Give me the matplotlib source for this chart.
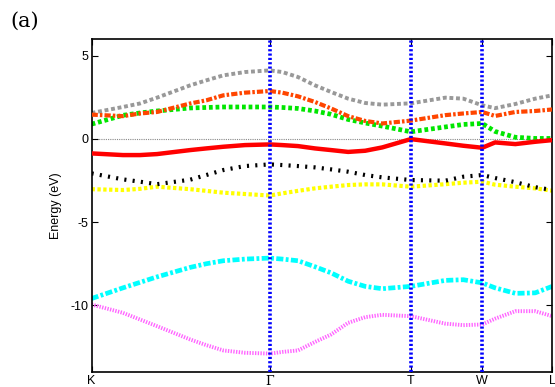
import numpy as np
import matplotlib
matplotlib.use("Agg")
import matplotlib.pyplot as plt

plt.rcParams["axes.unicode_minus"] = False
plt.rcParams["font.family"] = ["Liberation Sans", "DejaVu Sans"]

# high-symmetry points along the path (fraction of total path length)
sym_labels = ["K", "\u0393", "T", "W", "L"]
sym_pos = [0.0, 0.387, 0.693, 0.848, 1.0]

# k sample points
k = [0.0, 0.068, 0.105, 0.142, 0.214, 0.249, 0.286, 0.333, 0.387, 0.414, 0.448,
     0.485, 0.520, 0.557, 0.594, 0.631, 0.693, 0.768, 0.807, 0.848, 0.876,
     0.920, 0.963, 1.0]

# band energies (eV) read at the k points
band_gray    = [1.56, 1.92, 2.13, 2.48, 3.22, 3.52, 3.82, 4.02, 4.12, 4.02, 3.72,
                3.22, 2.82, 2.42, 2.16, 2.06, 2.14, 2.48, 2.42, 2.02, 1.85,
                2.10, 2.42, 2.62]
band_orange  = [1.46, 1.37, 1.53, 1.62, 2.13, 2.32, 2.62, 2.78, 2.88, 2.78, 2.56,
                2.22, 1.83, 1.37, 1.08, 0.93, 1.10, 1.43, 1.53, 1.62, 1.38,
                1.62, 1.68, 1.77]
band_green   = [0.89, 1.42, 1.56, 1.68, 1.86, 1.89, 1.92, 1.92, 1.92, 1.89, 1.83,
                1.68, 1.48, 1.17, 0.96, 0.77, 0.43, 0.72, 0.87, 0.93, 0.45,
                0.10, 0.03, 0.03]
band_red     = [-0.87, -0.97, -0.97, -0.91, -0.67, -0.57, -0.47, -0.37, -0.33, -0.37, -0.43,
                -0.57, -0.67, -0.78, -0.71, -0.51, -0.01, -0.27, -0.41, -0.53, -0.21,
                -0.31, -0.17, -0.07]
band_black   = [-2.07, -2.43, -2.57, -2.72, -2.45, -2.17, -1.87, -1.63, -1.53, -1.57, -1.63,
                -1.71, -1.83, -1.97, -2.17, -2.31, -2.47, -2.51, -2.27, -2.17, -2.35,
                -2.60, -2.90, -3.07]
band_yellow  = [-3.02, -3.07, -3.00, -2.87, -3.02, -3.12, -3.23, -3.31, -3.40, -3.27, -3.12,
                -2.97, -2.87, -2.77, -2.73, -2.73, -2.87, -2.72, -2.63, -2.57, -2.75,
                -2.87, -2.97, -3.11]
band_cyan    = [-9.59, -8.95, -8.62, -8.29, -7.72, -7.50, -7.32, -7.22, -7.16, -7.22, -7.32,
                -7.68, -8.05, -8.55, -8.86, -9.00, -8.86, -8.50, -8.46, -8.65, -8.95,
                -9.28, -9.25, -8.86]
band_magenta = [-9.95, -10.45, -10.85, -11.25, -12.05, -12.39, -12.71, -12.85, -12.90, -12.80, -12.71,
                -12.20, -11.75, -11.05, -10.71, -10.57, -10.65, -11.10, -11.19, -11.15, -10.80,
                -10.35, -10.35, -10.65]

fig = plt.figure(figsize=(5.55, 3.87), dpi=100)
ax = fig.add_axes([0.165, 0.039, 0.83, 0.86])

# Fermi level
ax.axhline(0, color="#888888", lw=0.8, ls=(0, (1, 1)), zorder=1)

# vertical lines at high-symmetry points
for p in sym_pos[1:-1]:
    ax.axvline(p, color="#0000ff", lw=2.6, ls=(0, (0.6, 0.6)), zorder=4)

ax.plot(k, band_gray,    color="#999999", lw=2.8, ls=(0, (1.0, 0.7)), zorder=2)
ax.plot(k, band_orange,  color="#ff4500", lw=3.0, ls=(0, (1.5, 0.5, 0.6, 0.5)), zorder=3)
ax.plot(k, band_green,   color="#00e600", lw=3.4, ls=(0, (0.8, 0.6)), zorder=2)
ax.plot(k, band_red,     color="#ff0000", lw=3.2, ls="-", zorder=3)
ax.plot(k, band_black,   color="#000000", lw=3.0, ls=(0, (0.5, 1.5)), zorder=3)
ax.plot(k, band_yellow,  color="#ffff00", lw=3.0, ls=(0, (0.8, 0.6)), zorder=2)
ax.plot(k, band_cyan,    color="#00ffff", lw=3.4, ls=(0, (1.5, 0.5, 0.6, 0.5)), zorder=2)
ax.plot(k, band_magenta, color="#ff66ff", lw=2.8, ls=(0, (0.35, 0.35)), zorder=2)

ax.set_xlim(0, 1)
ax.set_ylim(-14, 6)
ax.set_yticks([5, 0, -5, -10])
ax.set_yticklabels(["5", "0", "-5", "-10"], fontsize=9)
ax.set_xticks(sym_pos)
ax.set_xticklabels(sym_labels, fontsize=9)
for lbl in ax.get_xticklabels():
    if lbl.get_text() == "\u0393":
        lbl.set_fontfamily("DejaVu Serif")
ax.tick_params(direction="in", top=True, right=True, length=4, width=0.8, pad=2)
ax.set_ylabel("Energy (eV)", fontsize=9, labelpad=6)
for s in ax.spines.values():
    s.set_linewidth(1.2)

fig.text(0.018, 0.946, "(a)", fontsize=15, family="DejaVu Serif", va="center")

fig.savefig("out.png", dpi=100)
